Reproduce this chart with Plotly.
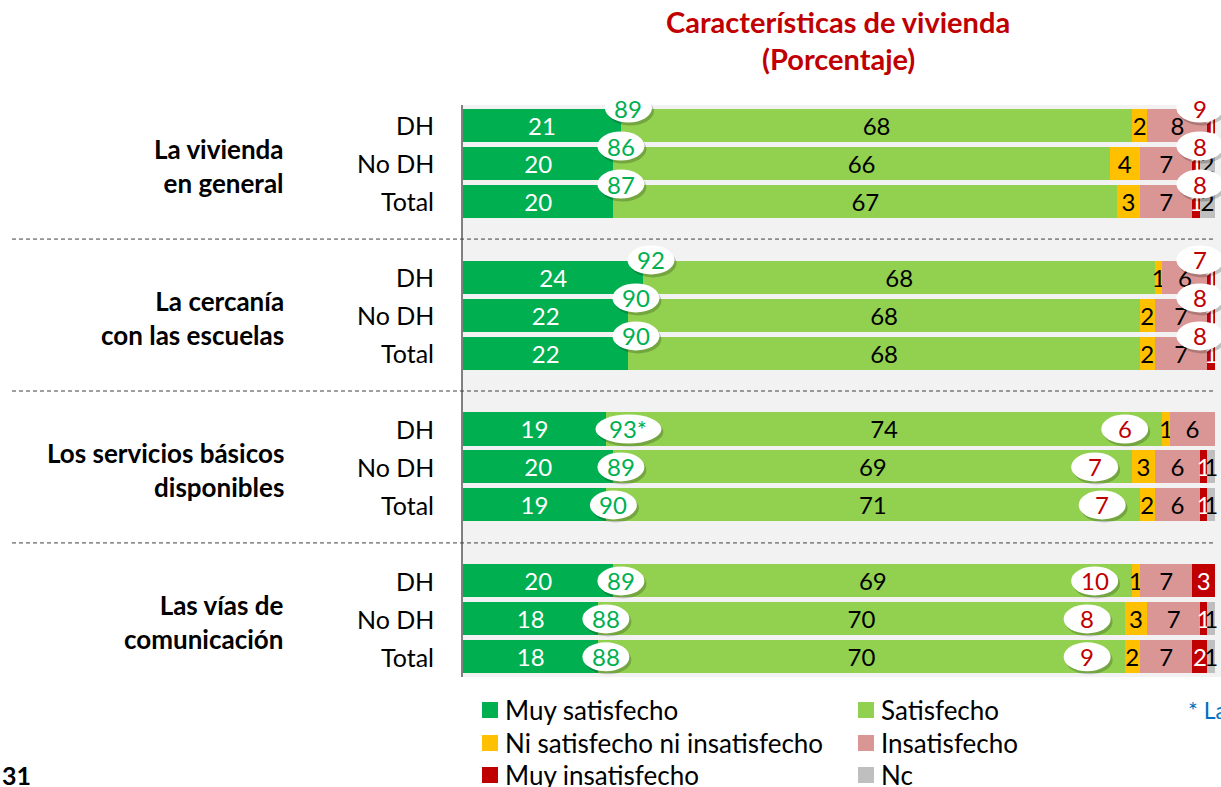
import plotly.graph_objects as go

# ---------------- data ----------------
groups = ["La vivienda<br>en general", "La cercanía<br>con las escuelas",
          "Los servicios básicos<br>disponibles", "Las vías de<br>comunicación"]
subgroups = ["DH", "No DH", "Total"]

muy_sat   = [21, 20, 20, 24, 22, 22, 19, 20, 19, 20, 18, 18]
sat       = [68, 66, 67, 68, 68, 68, 74, 69, 71, 69, 70, 70]
ni        = [2, 4, 3, 1, 2, 2, 1, 3, 2, 1, 3, 2]
insat     = [8, 7, 7, 6, 7, 7, 6, 6, 6, 7, 7, 7]
muy_insat = [1, 1, 1, 1, 1, 1, 0, 1, 1, 3, 1, 2]
nc        = [0, 2, 2, 0, 0, 0, 0, 1, 1, 0, 1, 1]

sat_total   = ["89", "86", "87", "92", "90", "90", "93*", "89", "90", "89", "88", "88"]
insat_total = ["9", "8", "8", "7", "8", "8", "6", "7", "7", "10", "8", "9"]

series_names = ["Muy satisfecho", "Satisfecho", "Ni satisfecho ni insatisfecho",
                "Insatisfecho", "Muy insatisfecho", "Nc"]
series_vals = [muy_sat, sat, ni, insat, muy_insat, nc]
series_colors = ["#00B050", "#92D050", "#FFC000", "#DA9694", "#C00000", "#BFBFBF"]
label_colors = ["white", "black", "black", "black", "white", "black"]

FONT = "Lato"
GREEN_T = "#00B050"
RED_T = "#C00000"
NUM_SIZE = 24
TXT_SIZE = 26

# ---------------- geometry helpers ----------------
L, T, W, H = 463, 105, 1221, 787
B_px = 677
PW = W - L
PH = B_px - T
XMAX = 100.8                      # 100 % ends near x=1215 px
PX_PER_X = PW / XMAX
Y_LO, Y_HI = -0.53, 14.53
PX_PER_Y = PH / (Y_HI - Y_LO)

def px_x(px):
    return (px - L) / PW

def px_y(py):
    return (B_px - py) / PH

slots = []
for g in range(len(groups)):
    for r in range(len(subgroups)):
        slots.append(g * 4 + r)

fig = go.Figure()

for name, vals, col, lc in zip(series_names, series_vals, series_colors, label_colors):
    fig.add_trace(go.Bar(
        orientation="h", x=vals, y=slots, width=0.87, name=name,
        marker=dict(color=col, line=dict(width=0)),
        text=[str(v) if v > 0 else "" for v in vals],
        textposition="inside", insidetextanchor="middle", constraintext="none",
        textangle=0,
        textfont=dict(family=FONT, size=NUM_SIZE, color=lc),
        hoverinfo="skip", showlegend=False, cliponaxis=False,
    ))

shapes = []
annotations = []

def bubble(cx, cy, text, color):
    wpx = 47 if len(text) <= 2 else 66
    hpx = 29
    w = wpx / PX_PER_X
    h = hpx / PX_PER_Y
    dx = 2 / PX_PER_X
    dy = 3 / PX_PER_Y
    shapes.append(dict(type="circle", xref="x", yref="y", layer="above",
                       x0=cx - w / 2 + dx, x1=cx + w / 2 + dx,
                       y0=cy - h / 2 + dy, y1=cy + h / 2 + dy,
                       fillcolor="rgba(0,0,0,0.2)", line=dict(width=0)))
    shapes.append(dict(type="circle", xref="x", yref="y", layer="above",
                       x0=cx - w / 2, x1=cx + w / 2,
                       y0=cy - h / 2, y1=cy + h / 2,
                       fillcolor="white", line=dict(width=0)))
    annotations.append(dict(x=cx, y=cy, xref="x", yref="y", text=text,
                            showarrow=False, xanchor="center", yanchor="middle",
                            font=dict(family=FONT, size=NUM_SIZE, color=color)))

for i, s in enumerate(slots):
    g = i // 3
    raised = g < 2
    cy = s - 0.45 if raised else s
    bubble(muy_sat[i] + 1 + (2 if len(sat_total[i]) > 2 else 0), cy, sat_total[i], GREEN_T)
    if raised:
        rx = 98
    else:
        rx = muy_sat[i] + sat[i] - 5
    bubble(rx, cy, insat_total[i], RED_T)

# row labels
for i, s in enumerate(slots):
    annotations.append(dict(x=px_x(436), y=s, xref="paper", yref="y",
                            text=subgroups[i % 3], showarrow=False,
                            xanchor="right", yanchor="middle",
                            font=dict(family=FONT, size=25, color="black")))

# group labels
for g, lab in enumerate(groups):
    annotations.append(dict(x=px_x(286), y=g * 4 + 1.07, xref="paper", yref="y",
                            text="<b>" + lab + "</b>", showarrow=False,
                            xanchor="right", yanchor="middle", align="right",
                            font=dict(family=FONT, size=TXT_SIZE, color="black")))

# dashed separators
for g in range(len(groups) - 1):
    yy = g * 4 + 3
    shapes.append(dict(type="line", xref="paper", yref="y",
                       x0=px_x(12), x1=px_x(1215), y0=yy, y1=yy,
                       line=dict(color="#404040", width=1, dash="4px,3px")))

# title
annotations.append(dict(x=px_x(838), y=px_y(22), xref="paper", yref="paper",
                        text="<b>Características de vivienda</b>", showarrow=False,
                        xanchor="center", yanchor="middle",
                        font=dict(family=FONT, size=29, color=RED_T)))
annotations.append(dict(x=px_x(838), y=px_y(58), xref="paper", yref="paper",
                        text="<b>(Porcentaje)</b>", showarrow=False,
                        xanchor="center", yanchor="middle",
                        font=dict(family=FONT, size=29, color=RED_T)))

# manual legend (two columns)
leg_pos = [(482, 710), (858, 710), (482, 743), (858, 743), (482, 775), (858, 775)]
for (lx, ly), name, col in zip(leg_pos, series_names, series_colors):
    shapes.append(dict(type="rect", xref="paper", yref="paper",
                       x0=px_x(lx), x1=px_x(lx + 16),
                       y0=px_y(ly + 8), y1=px_y(ly - 8),
                       fillcolor=col, line=dict(width=0)))
    annotations.append(dict(x=px_x(lx + 21), y=px_y(ly), xref="paper", yref="paper",
                            text=name, showarrow=False, xanchor="left", yanchor="middle",
                            font=dict(family=FONT, size=TXT_SIZE, color="black")))

annotations.append(dict(x=px_x(1186), y=px_y(710), xref="paper", yref="paper",
                        text="* La diferencia es estadísticamente significativa",
                        showarrow=False, xanchor="left", yanchor="middle",
                        font=dict(family=FONT, size=23, color="#0070C0")))
annotations.append(dict(x=px_x(0), y=px_y(775), xref="paper", yref="paper",
                        text="<b>31</b>", showarrow=False, xanchor="left", yanchor="middle",
                        font=dict(family=FONT, size=25, color="black")))

fig.update_layout(
    width=W, height=H,
    margin=dict(l=L, r=0, t=T, b=H - B_px, pad=0),
    barmode="stack",
    paper_bgcolor="white", plot_bgcolor="#F2F2F2",
    showlegend=False,
    shapes=shapes, annotations=annotations,
    xaxis=dict(range=[0, XMAX], visible=False, fixedrange=True),
    yaxis=dict(range=[Y_HI, Y_LO], showticklabels=False, showgrid=False,
               zeroline=False, showline=True, linecolor="#808080", linewidth=2,
               ticks="", fixedrange=True),
    font=dict(family=FONT),
)

fig.write_html("out.html", config={"displayModeBar": False},
               post_script="document.body.style.margin='0';")
